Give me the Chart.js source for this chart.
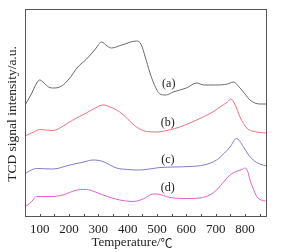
<!DOCTYPE html>
<html>
<head>
<meta charset="utf-8">
<script src="https://cdn.jsdelivr.net/npm/chart.js@4/dist/chart.umd.min.js"></script>
<style>
  html, body { margin: 0; padding: 0; background: #fff; }
  #wrap { width: 283px; height: 252px; position: relative; }
</style>
</head>
<body>
<div id="wrap"><canvas id="tpr"></canvas></div>
<script>
// temperature (°C) and TCD signal (a.u.)
var tempA = [50, 70, 90, 100, 115, 130, 150, 175, 200, 230, 260, 290, 311, 330, 345, 380, 430, 445, 460, 475, 490, 510, 530, 555, 600, 635, 660, 700, 740, 760, 783, 800, 817, 850, 875];
var sigA  = [112, 122, 134, 137, 134, 130, 129, 131, 138, 150, 158, 168, 175, 171, 169, 172, 176, 173, 160, 145, 133, 123, 122, 125, 129, 134, 132, 132, 133, 135, 129, 123, 117, 113, 113];

var tempB = [50, 65, 83, 100, 120, 145, 175, 213, 259, 290, 316, 340, 373, 400, 430, 464, 500, 540, 578, 620, 657, 690, 715, 740, 752, 765, 783, 806, 840, 875];
var sigB  = [81, 83, 85.5, 87.5, 87, 86.5, 90, 97, 104, 109, 112, 110, 105, 98, 90, 85.5, 85, 87, 90, 95, 100, 105, 110, 115, 118, 113, 100, 89, 85, 84];

var tempC = [50, 65, 89, 145, 203, 250, 282, 316, 340, 362, 400, 440, 487, 510, 560, 612, 660, 703, 730, 749, 771, 794, 810, 828, 850, 875];
var sigC  = [43, 46, 48.5, 48, 52, 55, 57, 55.5, 52, 49, 47.5, 47, 48.5, 49.5, 50, 50.5, 52, 57, 64, 70, 78.5, 70.5, 63, 57, 53, 51];

var tempD = [50, 66, 80, 89, 145, 190, 220, 259, 290, 316, 373, 419, 453, 487, 500, 544, 600, 646, 680, 703, 730, 749, 770, 790, 800, 810, 817, 830, 840, 855, 870];
var sigD  = [10.5, 13.5, 18, 20.5, 20.5, 23, 26.5, 27.5, 25, 22, 17, 15.5, 18, 23, 23, 19.5, 18.5, 19, 22, 27, 36, 42, 45.5, 47.5, 49, 45, 37, 27, 20.5, 17, 16];

var curveNames = ['(a)', '(b)', '(c)', '(d)'];
var labelTemp = [540, 537, 537, 537];
var labelSig = [133, 94, 57, 29];
var xTicks = [100, 200, 300, 400, 500, 600, 700, 800];
var minorTicks = [50, 100, 150, 200, 250, 300, 350, 400, 450, 500, 550, 600, 650, 700, 750, 800, 850];

var colors = ['#6a6a6a', '#f2707c', '#7f7bc9', '#e45fcb'];
var SERIF = '"Liberation Serif", "DejaVu Serif", serif';

function toPoints(xs, ys) {
  return xs.map(function (x, i) { return { x: x, y: ys[i] }; });
}

var allTemps = [tempA, tempB, tempC, tempD];
var allSigs = [sigA, sigB, sigC, sigD];

var framePlugin = {
  id: 'frame',
  afterDraw: function (chart) {
    var ctx = chart.ctx;
    var a = chart.chartArea;
    var xs = chart.scales.x;
    var ys = chart.scales.y;
    ctx.save();
    ctx.strokeStyle = '#555';
    ctx.lineWidth = 1;
    ctx.strokeRect(a.left + 0.5, a.top + 0.5, a.right - a.left - 1, a.bottom - a.top - 1);
    // inward ticks on bottom axis
    ctx.beginPath();
    minorTicks.forEach(function (v) {
      var px = Math.round(xs.getPixelForValue(v)) + 0.5;
      ctx.moveTo(px, a.bottom);
      ctx.lineTo(px, a.bottom - 3);
    });
    ctx.stroke();
    // curve labels
    ctx.fillStyle = '#222';
    ctx.font = '12px ' + SERIF;
    ctx.textAlign = 'center';
    ctx.textBaseline = 'middle';
    curveNames.forEach(function (n, i) {
      ctx.fillText(n, xs.getPixelForValue(labelTemp[i]), ys.getPixelForValue(labelSig[i]));
    });
    // x title: latin part in serif, degree sign as one CJK glyph
    ctx.textAlign = 'left';
    ctx.font = '13px ' + SERIF;
    var part1 = 'Temperature/';
    var w1 = ctx.measureText(part1).width;
    ctx.font = '12px "Noto Sans CJK SC"';
    var w2 = ctx.measureText('\u2103').width;
    var x0 = 132 - (w1 + w2) / 2;
    ctx.font = '13px ' + SERIF;
    ctx.fillText(part1, x0, 243);
    ctx.font = '12px "Noto Sans CJK SC"';
    ctx.fillText('\u2103', x0 + w1, 243);
    // y title
    ctx.textAlign = 'center';
    ctx.font = '13.5px ' + SERIF;
    ctx.translate(12, 114);
    ctx.rotate(-Math.PI / 2);
    ctx.fillText('TCD signal intensity/a.u.', 0, 0);
    ctx.restore();
  }
};

new Chart(document.getElementById('tpr'), {
  type: 'line',
  data: {
    datasets: allTemps.map(function (t, i) {
      return {
        label: curveNames[i],
        data: toPoints(t, allSigs[i]),
        borderColor: colors[i],
        borderWidth: 1,
        pointRadius: 0,
        tension: 0.4,
        cubicInterpolationMode: 'monotone',
        fill: false
      };
    })
  },
  options: {
    responsive: true,
    maintainAspectRatio: false,
    animation: false,
    layout: { padding: { top: 9, right: 16, left: 0, bottom: 0 } },
    plugins: { legend: { display: false }, tooltip: { enabled: false } },
    scales: {
      x: {
        type: 'linear',
        min: 50,
        max: 875,
        grid: { display: false, drawTicks: false },
        border: { display: false },
        afterBuildTicks: function (scale) {
          scale.ticks = xTicks.map(function (v) { return { value: v }; });
        },
        afterFit: function (scale) { scale.height = 35; },
        ticks: {
          color: '#222',
          font: { family: SERIF, size: 13 },
          padding: 5,
          maxRotation: 0,
          autoSkip: false
        }
      },
      y: {
        min: 0,
        max: 208,
        grid: { display: false, drawTicks: false },
        border: { display: false },
        ticks: { display: false },
        afterFit: function (scale) { scale.width = 25; }
      }
    }
  },
  plugins: [framePlugin]
});
</script>
</body>
</html>
